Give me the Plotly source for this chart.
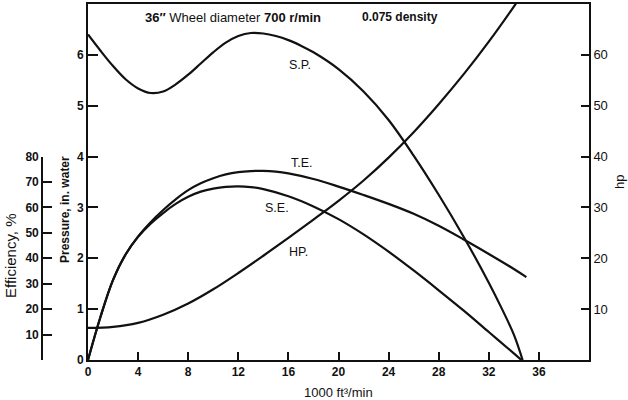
import plotly.graph_objects as go

# ---- data (flow in 1000 ft3/min) ----
sp_q = [0, 1, 2, 3, 4, 5, 6, 7, 8, 9, 10, 11, 12, 13, 14, 15, 16, 17, 18, 20, 22, 24, 26, 28, 30, 32, 33, 34, 34.7]
sp_val = [6.40, 6.08, 5.78, 5.52, 5.34, 5.25, 5.28, 5.42, 5.61, 5.83, 6.05, 6.24, 6.37, 6.43, 6.42, 6.37, 6.29,
          6.18, 6.05, 5.72, 5.28, 4.72, 4.02, 3.25, 2.42, 1.52, 1.03, 0.50, 0.0]

te_q = [0, 1, 2, 3, 4, 5, 6, 7, 8, 9, 10, 11, 12, 13, 14, 15, 16, 18, 20, 22, 24, 26, 28, 30, 32, 34, 35]
te_val = [0, 17, 31.5, 41.5, 48.6, 54.2, 59, 63.2, 66.8, 69.5, 71.5, 73, 73.9, 74.3, 74.4, 74.1, 73.4, 71.2,
          68.2, 64.9, 61.4, 57.5, 52.8, 47.4, 41.7, 35.8, 32.6]

se_q = [0, 1, 2, 3, 4, 5, 6, 7, 8, 9, 10, 11, 12, 13, 14, 16, 18, 20, 22, 24, 26, 28, 30, 32, 34, 34.6]
se_val = [0, 17, 31.5, 41.5, 48.4, 53.6, 57.8, 61.4, 64.2, 66.2, 67.4, 68.1, 68.3, 68.0, 67.2, 64.4, 60.4, 55.4,
          49.4, 42.6, 35.2, 27.4, 19.4, 11.0, 2.6, 0]

hp_q = [0, 2, 4, 6, 8, 10, 12, 14, 16, 18, 20, 22, 24, 26, 28, 30, 32, 34, 34.6]
hp_val = [6.3, 6.5, 7.3, 8.9, 11.1, 13.9, 17.1, 20.5, 24.0, 27.6, 31.3, 35.3, 39.8, 44.8, 50.3, 56.2, 62.6,
          69.5, 71.7]

x_ticks = [0, 4, 8, 12, 16, 20, 24, 28, 32, 36]
p_ticks = [0, 1, 2, 3, 4, 5, 6]
hp_ticks = [10, 20, 30, 40, 50, 60]
eff_ticks = [0, 10, 20, 30, 40, 50, 60, 70, 80]
eff_text = ["", "10", "20", "30", "40", "50", "60", "70", "80"]

curve_labels = [("S.P.", 16.9, 5.80), ("T.E.", 17.1, 3.87), ("S.E.", 15.1, 2.99), ("HP.", 16.8, 2.12)]

# ---- layout helpers (pixel -> paper) ----
ML, MR, MT, MB = 40, 39, 4, 40
W, H = 628, 400
PW, PH = W - ML - MR, H - MT - MB


def px(xp):
    return (xp - ML) / PW


def py(yp):
    return (H - MB - yp) / PH


INK = "#111111"
FONT = "Liberation Sans, Arial, Helvetica, sans-serif"

fig = go.Figure()
line = dict(color=INK, width=2.2, shape="spline", smoothing=1.0)
fig.add_trace(go.Scatter(x=sp_q, y=sp_val, mode="lines", line=line, xaxis="x", yaxis="y", name="S.P."))
fig.add_trace(go.Scatter(x=hp_q, y=hp_val, mode="lines", line=line, xaxis="x", yaxis="y2", name="HP"))
fig.add_trace(go.Scatter(x=te_q, y=te_val, mode="lines", line=line, xaxis="x", yaxis="y3", name="T.E."))
fig.add_trace(go.Scatter(x=se_q, y=se_val, mode="lines", line=line, xaxis="x", yaxis="y3", name="S.E."))

axis_common = dict(showgrid=False, zeroline=False, showline=True, linecolor=INK, linewidth=1.6,
                   tickcolor=INK, tickwidth=1.5, ticks="inside", automargin=False)

fig.update_layout(
    width=W, height=H,
    margin=dict(l=ML, r=MR, t=MT, b=MB, autoexpand=False),
    paper_bgcolor="white", plot_bgcolor="rgba(0,0,0,0)",
    showlegend=False,
    font=dict(family=FONT, color=INK),
    xaxis=dict(domain=[px(88), 1], range=[0, 40], tickvals=x_ticks, ticklen=8, mirror=True, anchor="y",
               tickfont=dict(size=12, weight="bold"), **axis_common),
    yaxis=dict(range=[0, 7], tickvals=p_ticks, ticklen=10, anchor="x",
               tickfont=dict(size=12, weight="bold"), **axis_common),
    yaxis2=dict(range=[0, 70], tickvals=hp_ticks, ticklen=8, overlaying="y", side="right", anchor="x",
                tickfont=dict(size=13), **axis_common),
    yaxis3=dict(domain=[0, 4 / 7], range=[0, 80], tickvals=eff_ticks, ticktext=eff_text, ticklen=9,
                anchor="free", position=px(42), side="left",
                tickfont=dict(size=12, weight="bold"), **axis_common),
)

ann = []


def note(text, xp, yp, size, angle=0, xanchor="center"):
    ann.append(dict(text=text, x=px(xp), y=py(yp), xref="paper", yref="paper", textangle=angle,
                    xanchor=xanchor, yanchor="middle", showarrow=False, font=dict(size=size)))


note("Efficiency, %", 11, 256, 15, -90)
note("<b>Pressure, in. water</b>", 65, 210, 12, -90)
note("hp", 619, 182, 13, -90)
note("1000 ft³/min", 338, 392, 13)
note("<b>36″</b> Wheel diameter <b>700 r/min</b>", 143, 17, 13, xanchor="left")
note("<b>0.075 density</b>", 360, 17, 12, xanchor="left")
for txt, qx, pv in curve_labels:
    ann.append(dict(text=txt, x=qx, y=pv, xref="x", yref="y", xanchor="center", yanchor="middle",
                    showarrow=False, font=dict(size=12.5)))
fig.update_layout(annotations=ann)

fig.write_html("out.html", config={"displayModeBar": False},
               post_script="document.body.style.margin='0px';")
